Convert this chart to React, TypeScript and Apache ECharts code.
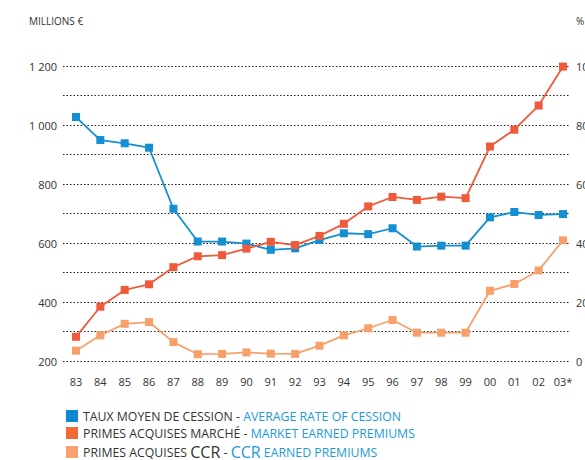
import React, { useEffect, useRef } from "react";
import * as echarts from "echarts";

const years = ["83","84","85","86","87","88","89","90","91","92","93","94","95","96","97","98","99","00","01","02","03*"];
const cessionRate = [82.7,74.9,73.8,72.3,51.6,40.5,40.5,39.8,37.7,38.2,41.0,43.3,43.0,45.0,38.8,39.1,39.1,48.7,50.5,49.5,49.8];
const marketPremiums = [282,384,441,460,518,555,559,581,604,593,624,665,724,756,746,757,752,927,984,1066,1198];
const ccrPremiums = [235,287,326,332,264,223,224,229,225,224,252,287,311,339,296,296,296,438,461,507,609];
const leftTicks = [200, 400, 600, 800, 1000, 1200];
const rightTicks = [0, 20, 40, 60, 80, 100];

const FONT = "'Open Sans', 'Noto Sans', sans-serif";
const BLUE = "#138fd2";
const RED = "#ef5a3b";
const ORANGE = "#f8a06c";
const TEXT = "#333333";
const LINKBLUE = "#1c9ad8";

export default function App() {
  const ref = useRef<HTMLDivElement>(null);
  useEffect(() => {
    const chart = echarts.init(ref.current!, null, { renderer: "svg" });
    const labels: Record<string, string> = {
      cession: "{a|TAUX MOYEN DE CESSION - }{b|AVERAGE RATE OF CESSION}",
      market: "{a|PRIMES ACQUISES MARCHÉ - }{b|MARKET EARNED PREMIUMS}",
      ccr: "{a|PRIMES ACQUISES }{c|CCR}{a| - }{d|CCR}{b| EARNED PREMIUMS}",
    };
    const fmtThousands = (v: number) => {
      const s = String(v);
      return s.length > 3 ? s.slice(0, s.length - 3) + " " + s.slice(-3) : s;
    };
    chart.setOption({
      animation: false,
      textStyle: { fontFamily: FONT },
      grid: [
        { left: 63, right: 15, top: 66, bottom: 99, outerBoundsMode: "none", containLabel: false },
        { left: 76, right: 22, top: 66, bottom: 99, outerBoundsMode: "none", containLabel: false },
      ],
      graphic: [
        { type: "text", left: 29, top: 16, style: { text: "MILLIONS €", fontFamily: FONT, fontSize: 10, fill: TEXT } },
        { type: "text", left: 576, top: 16, style: { text: "%", fontFamily: FONT, fontSize: 10, fill: TEXT } },
      ],
      xAxis: [
        { type: "value", gridIndex: 0, show: false, min: 0, max: 1 },
        {
          type: "category", gridIndex: 1, data: years, boundaryGap: false,
          axisLine: { show: false }, axisTick: { show: false },
          axisLabel: { color: TEXT, fontSize: 11, margin: 15, fontFamily: FONT, interval: 0 },
          splitLine: { show: false },
        },
      ],
      yAxis: [
        {
          type: "value", gridIndex: 0, min: 200, max: 1200, interval: 100,
          axisLine: { show: false }, axisTick: { show: false },
          axisLabel: {
            color: TEXT, fontSize: 11, margin: 6, fontFamily: FONT,
            formatter: (v: number) => (leftTicks.includes(v) ? fmtThousands(v) : ""),
          },
          splitLine: { show: true, lineStyle: { color: "#222", type: [1.5, 2], width: 1 } },
        },
        {
          type: "value", gridIndex: 0, position: "right", min: 0, max: 100, interval: 10,
          axisLine: { show: false }, axisTick: { show: false },
          axisLabel: {
            color: TEXT, fontSize: 11, margin: 6, fontFamily: FONT, align: "left",
            formatter: (v: number) => (rightTicks.includes(v) ? String(v) : ""),
          },
          splitLine: { show: false },
        },
        { type: "value", gridIndex: 1, min: 200, max: 1200, show: false },
        { type: "value", gridIndex: 1, min: 0, max: 100, show: false },
      ],
      legend: {
        data: [
          { name: "cession", itemStyle: { color: "#0f8ad0" } },
          { name: "market", itemStyle: { color: "#f26a36" } },
          { name: "ccr", itemStyle: { color: "#f8a070" } },
        ],
        orient: "vertical",
        left: 66, top: 410, padding: 0, height: 120,
        itemWidth: 12, itemHeight: 12, itemGap: 5,
        icon: "rect",
        formatter: (n: string) => labels[n],
        textStyle: {
          fontFamily: FONT,
          rich: {
            a: { fontSize: 12.3, color: TEXT, fontFamily: FONT },
            b: { fontSize: 12.3, color: LINKBLUE, fontFamily: FONT },
            c: { fontSize: 16, color: TEXT, fontFamily: FONT },
            d: { fontSize: 16, color: LINKBLUE, fontFamily: FONT },
          },
        },
      },
      series: [
        {
          name: "cession", type: "line", xAxisIndex: 1, yAxisIndex: 3, data: cessionRate,
          symbol: "rect", symbolSize: 8, color: BLUE,
          lineStyle: { width: 1.8, color: BLUE }, itemStyle: { color: BLUE },
        },
        {
          name: "market", type: "line", xAxisIndex: 1, yAxisIndex: 2, data: marketPremiums,
          symbol: "rect", symbolSize: 8, color: RED,
          lineStyle: { width: 1.8, color: RED }, itemStyle: { color: RED },
        },
        {
          name: "ccr", type: "line", xAxisIndex: 1, yAxisIndex: 2, data: ccrPremiums,
          symbol: "rect", symbolSize: 8, color: ORANGE,
          lineStyle: { width: 1.8, color: ORANGE }, itemStyle: { color: ORANGE },
        },
      ],
    });
    return () => chart.dispose();
  }, []);
  return (
    <div
      ref={ref}
      style={{ position: "fixed", left: 0, top: 0, width: 585, height: 460, background: "#fff" }}
    />
  );
}
